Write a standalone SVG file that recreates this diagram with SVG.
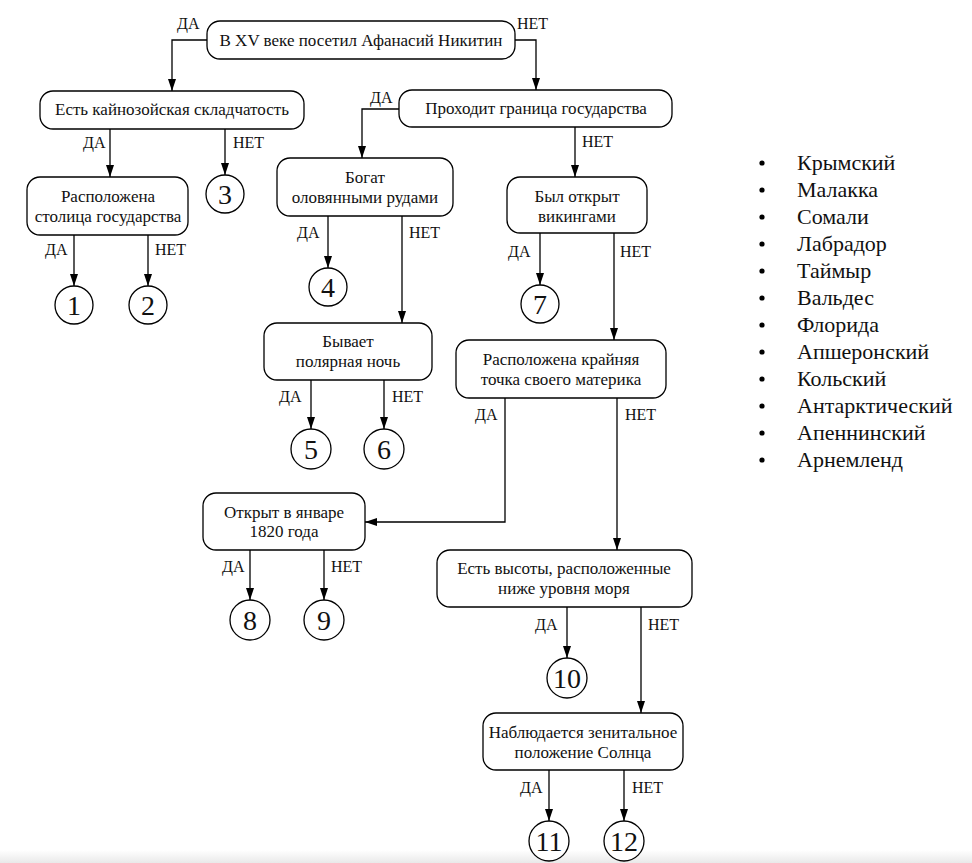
<svg xmlns="http://www.w3.org/2000/svg" width="972" height="863" viewBox="0 0 972 863" font-family="'Liberation Serif', 'Times New Roman', 'DejaVu Serif', serif">
<style>
  .box{fill:#fff;stroke:#000;stroke-width:1.3}
  .circ{fill:#fff;stroke:#000;stroke-width:1.3}
  text{font-family:'Liberation Serif','Times New Roman','DejaVu Serif',serif}
  .t{font-size:17px;fill:#111;text-anchor:middle}
  .lbl{font-size:16px;fill:#111}
  .num{font-size:28px;fill:#111;text-anchor:middle}
  .li{font-size:22px;fill:#111}
  .edge{fill:none;stroke:#000;stroke-width:1.3}
</style>
<defs>
  <linearGradient id="bot" x1="0" y1="0" x2="0" y2="1">
    <stop offset="0" stop-color="#fff"/>
    <stop offset="1" stop-color="#e9e9e9"/>
  </linearGradient>
</defs>
<rect width="972" height="863" fill="#fff"/>
<rect x="0" y="850" width="972" height="13" fill="url(#bot)"/>

<g id="connectors">
  <path class="edge" d="M207,40 H172 V91"/>
  <path d="M168,79 L172,91 L176,79 Z"/>
  <path class="edge" d="M515,40 H536 V90"/>
  <path d="M532,78 L536,90 L540,78 Z"/>
  <path class="edge" d="M110,129 V177"/>
  <path d="M106,165 L110,177 L114,165 Z"/>
  <path class="edge" d="M225,129 V175"/>
  <path d="M221,163 L225,175 L229,163 Z"/>
  <path class="edge" d="M74,235 V286"/>
  <path d="M70,274 L74,286 L78,274 Z"/>
  <path class="edge" d="M148,235 V286"/>
  <path d="M144,274 L148,286 L152,274 Z"/>
  <path class="edge" d="M399,109 H362 V158"/>
  <path d="M358,146 L362,158 L366,146 Z"/>
  <path class="edge" d="M575,127 V177"/>
  <path d="M571,165 L575,177 L579,165 Z"/>
  <path class="edge" d="M328,216 V268"/>
  <path d="M324,256 L328,268 L332,256 Z"/>
  <path class="edge" d="M402,216 V323"/>
  <path d="M398,311 L402,323 L406,311 Z"/>
  <path class="edge" d="M540,233 V285"/>
  <path d="M536,273 L540,285 L544,273 Z"/>
  <path class="edge" d="M614,233 V340"/>
  <path d="M610,328 L614,340 L618,328 Z"/>
  <path class="edge" d="M311,380 V429"/>
  <path d="M307,417 L311,429 L315,417 Z"/>
  <path class="edge" d="M384,380 V429"/>
  <path d="M380,417 L384,429 L388,417 Z"/>
  <path class="edge" d="M505,398 V522 H365"/>
  <path d="M377,518 L365,522 L377,526 Z"/>
  <path class="edge" d="M617,398 V550"/>
  <path d="M613,538 L617,550 L621,538 Z"/>
  <path class="edge" d="M250,550 V600"/>
  <path d="M246,588 L250,600 L254,588 Z"/>
  <path class="edge" d="M324,550 V600"/>
  <path d="M320,588 L324,600 L328,588 Z"/>
  <path class="edge" d="M567,607 V658"/>
  <path d="M563,646 L567,658 L571,646 Z"/>
  <path class="edge" d="M641,607 V713"/>
  <path d="M637,701 L641,713 L645,701 Z"/>
  <path class="edge" d="M549,770 V821"/>
  <path d="M545,809 L549,821 L553,809 Z"/>
  <path class="edge" d="M624,770 V821"/>
  <path d="M620,809 L624,821 L628,809 Z"/>

  <text class="lbl" x="177" y="29">ДА</text>
  <text class="lbl" x="517" y="29">НЕТ</text>
  <text class="lbl" x="83" y="148">ДА</text>
  <text class="lbl" x="233" y="148">НЕТ</text>
  <text class="lbl" x="45" y="255">ДА</text>
  <text class="lbl" x="155" y="255">НЕТ</text>
  <text class="lbl" x="370" y="103">ДА</text>
  <text class="lbl" x="582" y="147">НЕТ</text>
  <text class="lbl" x="297" y="238">ДА</text>
  <text class="lbl" x="409" y="238">НЕТ</text>
  <text class="lbl" x="508" y="257">ДА</text>
  <text class="lbl" x="620" y="257">НЕТ</text>
  <text class="lbl" x="279" y="402">ДА</text>
  <text class="lbl" x="392" y="402">НЕТ</text>
  <text class="lbl" x="475" y="420">ДА</text>
  <text class="lbl" x="625" y="420">НЕТ</text>
  <text class="lbl" x="222" y="572">ДА</text>
  <text class="lbl" x="331" y="572">НЕТ</text>
  <text class="lbl" x="535" y="630">ДА</text>
  <text class="lbl" x="648" y="630">НЕТ</text>
  <text class="lbl" x="520" y="793">ДА</text>
  <text class="lbl" x="632" y="793">НЕТ</text>
</g>

<g id="n-root"><rect class="box" x="207" y="21" width="308" height="38" rx="13"/><text class="t" x="361" y="46">В XV веке посетил Афанасий Никитин</text></g>
<g id="n-kaino"><rect class="box" x="40" y="91" width="264" height="38" rx="13"/><text class="t" x="172" y="115">Есть кайнозойская складчатость</text></g>
<g id="n-border"><rect class="box" x="399" y="90" width="273" height="37" rx="13"/><text class="t" x="536" y="114">Проходит граница государства</text></g>
<g id="n-capital"><rect class="box" x="27" y="177" width="161" height="58" rx="13"/><text class="t" x="108" y="202">Расположена</text><text class="t" x="108" y="222">столица государства</text></g>
<g id="n-tin"><rect class="box" x="277" y="158" width="176" height="58" rx="13"/><text class="t" x="365" y="183">Богат</text><text class="t" x="365" y="203">оловянными рудами</text></g>
<g id="n-vikings"><rect class="box" x="507" y="177" width="140" height="56" rx="13"/><text class="t" x="577" y="202">Был открыт</text><text class="t" x="577" y="222">викингами</text></g>
<g id="n-polar"><rect class="box" x="264" y="323" width="168" height="57" rx="13"/><text class="t" x="348" y="347">Бывает</text><text class="t" x="348" y="367">полярная ночь</text></g>
<g id="n-extreme"><rect class="box" x="456" y="340" width="210" height="58" rx="13"/><text class="t" x="561" y="365">Расположена крайняя</text><text class="t" x="561" y="385">точка своего материка</text></g>
<g id="n-jan"><rect class="box" x="203" y="493" width="162" height="57" rx="13"/><text class="t" x="284" y="518">Открыт в январе</text><text class="t" x="284" y="537">1820 года</text></g>
<g id="n-below"><rect class="box" x="437" y="550" width="255" height="57" rx="13"/><text class="t" x="564" y="574">Есть высоты, расположенные</text><text class="t" x="564" y="594">ниже уровня моря</text></g>
<g id="n-zenith"><rect class="box" x="483" y="713" width="200" height="57" rx="13"/><text class="t" x="583" y="738">Наблюдается зенитальное</text><text class="t" x="583" y="758">положение Солнца</text></g>

<g id="c1"><circle class="circ" cx="74" cy="305" r="19"/><text class="num" x="74" y="315">1</text></g>
<g id="c2"><circle class="circ" cx="148" cy="305" r="19"/><text class="num" x="148" y="315">2</text></g>
<g id="c3"><circle class="circ" cx="225" cy="194" r="19"/><text class="num" x="225" y="204">3</text></g>
<g id="c4"><circle class="circ" cx="328" cy="287" r="19"/><text class="num" x="328" y="297">4</text></g>
<g id="c5"><circle class="circ" cx="311" cy="449" r="20"/><text class="num" x="311" y="459">5</text></g>
<g id="c6"><circle class="circ" cx="384" cy="449" r="20"/><text class="num" x="384" y="459">6</text></g>
<g id="c7"><circle class="circ" cx="540" cy="304" r="19"/><text class="num" x="540" y="314">7</text></g>
<g id="c8"><circle class="circ" cx="250" cy="620" r="20"/><text class="num" x="250" y="630">8</text></g>
<g id="c9"><circle class="circ" cx="324" cy="620" r="20"/><text class="num" x="324" y="630">9</text></g>
<g id="c10"><circle class="circ" cx="567" cy="678" r="20"/><text class="num" x="567" y="688">10</text></g>
<g id="c11"><circle class="circ" cx="549" cy="841" r="20"/><text class="num" x="549" y="851">11</text></g>
<g id="c12"><circle class="circ" cx="624" cy="841" r="20"/><text class="num" x="624" y="851">12</text></g>

<g id="list">
  <g fill="#000">
    <circle cx="762" cy="163" r="2.6"/><circle cx="762" cy="190" r="2.6"/><circle cx="762" cy="217" r="2.6"/><circle cx="762" cy="244" r="2.6"/>
    <circle cx="762" cy="271" r="2.6"/><circle cx="762" cy="298" r="2.6"/><circle cx="762" cy="325" r="2.6"/><circle cx="762" cy="352" r="2.6"/>
    <circle cx="762" cy="379" r="2.6"/><circle cx="762" cy="406" r="2.6"/><circle cx="762" cy="433" r="2.6"/><circle cx="762" cy="460" r="2.6"/>
  </g>
  <text class="li" x="797" y="170">Крымский</text>
  <text class="li" x="797" y="197">Малакка</text>
  <text class="li" x="797" y="224">Сомали</text>
  <text class="li" x="797" y="251">Лабрадор</text>
  <text class="li" x="797" y="278">Таймыр</text>
  <text class="li" x="797" y="305">Вальдес</text>
  <text class="li" x="797" y="332">Флорида</text>
  <text class="li" x="797" y="359">Апшеронский</text>
  <text class="li" x="797" y="386">Кольский</text>
  <text class="li" x="797" y="413">Антарктический</text>
  <text class="li" x="797" y="440">Апеннинский</text>
  <text class="li" x="797" y="467">Арнемленд</text>
</g>
</svg>
